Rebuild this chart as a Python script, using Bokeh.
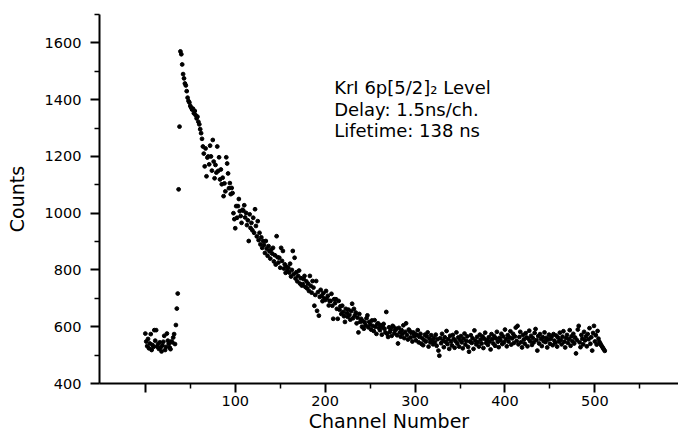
from bokeh.plotting import figure
from bokeh.models import Range1d, FixedTicker, Label, ColumnDataSource
from bokeh.embed import file_html
from bokeh.resources import INLINE

# ---- data (counts per channel, channel 0 .. 511) ----
counts = [
    576, 548, 532, 557, 524, 541, 574, 518, 536, 529,
    588, 551, 588, 530, 539, 522, 545, 527, 513, 534,
    547, 568, 518, 529, 576, 551, 540, 527, 521, 548,
    545, 562, 574, 539, 606, 664, 717, 1084, 1305, 1570, 1560,
    1524, 1490, 1475, 1457, 1450, 1430, 1407, 1395, 1390,
    1378, 1372, 1365, 1368, 1352, 1360, 1345, 1334, 1340, 1322,
    1313, 1296, 1282,
    1262, 1235, 1210, 1165, 1228, 1130, 1196, 1200, 1172, 1238,
    1200, 1150, 1258, 1182, 1123, 1170, 1143, 1235, 1149, 1197,
    1119, 1154, 1102, 1125, 1060, 1105, 1077, 1197, 1175, 1140,
    1088, 1106, 1067, 1089, 1071, 1000, 979, 947,
    1025, 984, 1025, 1050, 1007, 990, 966, 1012, 1009, 1028,
    985, 1001, 958, 975, 902, 996, 948, 966, 940, 984,
    931, 1014, 955, 918, 972, 905, 931, 890, 915, 878,
    902, 888, 860, 902, 875, 850, 884, 866, 840, 872,
    858, 878, 830, 852, 819, 919, 845, 826, 843, 808,
    878, 832, 867, 805, 820, 790, 812, 798, 808, 791,
    822, 777, 800, 867, 785, 843, 770, 792, 760, 779,
    798, 752, 771, 745, 750, 768, 779, 740, 760, 735,
    752, 726, 779, 744, 720, 761, 738, 674, 712, 761,
    656, 722, 639, 705, 730, 709, 690, 718, 700, 694,
    726, 700, 709, 675, 690, 691, 716, 674, 628, 697,
    683, 697, 663, 628, 691, 660, 672, 645, 674, 652,
    637, 617, 663, 648, 635, 660, 642, 625, 655, 681,
    630, 663, 640, 650, 612, 632, 580, 645, 617, 628,
    600, 620, 593, 615, 605, 630, 640, 598, 617, 608,
    590, 622, 603, 585, 623, 600, 575, 610, 612, 595,
    588, 605, 572, 598, 610, 593, 580, 652, 575, 564,
    598, 582, 590, 568, 603, 600, 577, 588, 593, 570,
    541, 596, 580, 565, 588, 575, 605, 560, 582, 612,
    571, 555, 590, 585, 562, 578, 548, 580, 566, 575,
    552, 570, 588, 545, 564, 575, 540, 560, 535, 553,
    572, 548, 566, 580, 530, 558, 545, 570, 552, 538,
    561, 545, 572, 533, 556, 516, 498, 560, 542, 575,
    551, 528, 563, 547, 585, 539, 556, 522, 568, 548,
    534, 571, 557, 526, 549, 580, 541, 562, 530, 553,
    567, 545, 524, 558, 576, 537, 550, 566, 529, 512,
    548, 570, 543, 559, 522, 587, 551, 538, 564, 546,
    530, 572, 555, 541, 566, 525, 558, 579, 543, 552,
    536, 563, 548, 520, 574, 556, 541, 567, 533, 559,
    582, 547, 528, 561, 552, 575, 539, 566, 545, 590,
    556, 531, 570, 548, 562, 584, 537, 559, 575, 543,
    566, 597, 550, 603, 538, 564, 582, 546, 527, 571,
    555, 540, 577, 562, 531, 558, 586, 549, 568, 536,
    560, 545, 578, 592, 553, 516, 567, 541, 574, 557,
    532, 563, 549, 580, 546, 561, 527, 555, 572, 540,
    558, 566, 535, 574, 551, 543, 569, 530, 562, 548,
    579, 554, 538, 565, 584, 547, 527, 560, 571, 543,
    556, 588, 533, 566, 549, 575, 541, 562, 506, 553,
    590, 603, 545, 528, 571, 558, 538, 582, 552, 566,
    531, 574, 556, 595, 540, 563, 516, 578, 603, 548,
    570, 537, 585, 558, 547, 541, 535, 530, 525, 520, 515,
]
channels = list(range(len(counts)))

x_major = [0, 100, 200, 300, 400, 500]
x_minor = [50, 150, 250, 350, 450, 550]
y_major = [400, 600, 800, 1000, 1200, 1400, 1600]
y_minor = [500, 700, 900, 1100, 1300, 1500, 1700]

notes = ["KrI 6p[5/2]\u2082 Level", "Delay: 1.5ns/ch.", "Lifetime: 138 ns"]
note_y = [1443, 1367, 1291]
note_x = 210

FONT = "DejaVu Sans"

p = figure(width=678, height=435, output_backend="svg", toolbar_location=None,
           x_range=Range1d(-51, 593), y_range=Range1d(400, 1700),
           min_border_left=99, min_border_right=0, min_border_top=14,
           min_border_bottom=52)
p.outline_line_color = None
p.xgrid.visible = False
p.ygrid.visible = False
p.background_fill_color = "white"
p.border_fill_color = "white"

src = ColumnDataSource(dict(ch=channels, n=counts))
p.scatter("ch", "n", source=src, size=3.8, marker="circle",
          fill_color="black", line_color="black")

for ax in (p.xaxis[0], p.yaxis[0]):
    ax.axis_line_width = 2
    ax.axis_line_color = "black"
    ax.major_tick_line_width = 2
    ax.minor_tick_line_width = 1.5
    ax.major_tick_in = 0
    ax.minor_tick_in = 0
    ax.major_tick_out = 9
    ax.minor_tick_out = 5
    ax.major_label_text_font = FONT
    ax.major_label_text_font_size = "14.5px"
    ax.major_label_text_color = "black"
    ax.axis_label_text_font = FONT
    ax.axis_label_text_font_style = "normal"
    ax.axis_label_text_font_size = "19px"
    ax.axis_label_text_color = "black"

p.xaxis[0].ticker = FixedTicker(ticks=x_major, minor_ticks=x_minor)
p.xaxis[0].major_label_overrides = {0: ""}
p.xaxis[0].major_label_standoff = 3
p.xaxis[0].axis_label = "Channel Number"
p.xaxis[0].axis_label_standoff = 1

p.yaxis[0].ticker = FixedTicker(ticks=y_major, minor_ticks=y_minor)
p.yaxis[0].major_label_standoff = 9
p.yaxis[0].axis_label = "Counts"
p.yaxis[0].axis_label_standoff = 14

for t, yv in zip(notes, note_y):
    p.add_layout(Label(x=note_x, y=yv, text=t, text_font=FONT,
                       text_font_size="18px", text_color="black",
                       text_baseline="middle", text_align="left"))

open("out.html", "w").write(file_html(p, INLINE))
